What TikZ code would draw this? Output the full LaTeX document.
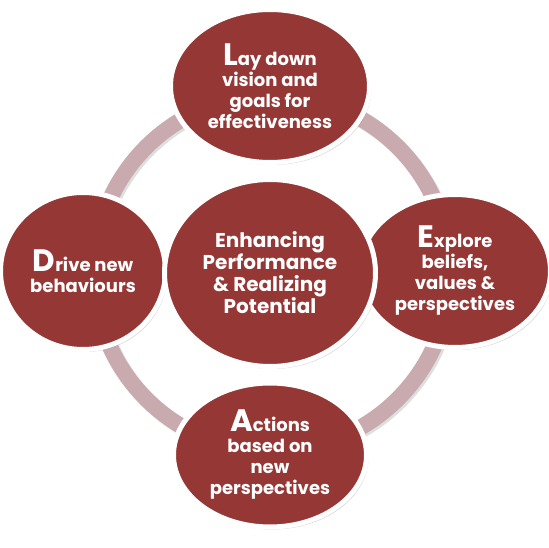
\documentclass[tikz,border=0pt]{standalone}
\usepackage{fontspec}
\setmainfont{Poppins}
\usetikzlibrary{shapes.geometric,shadows}
\definecolor{bub}{HTML}{953735}
\definecolor{ringc}{HTML}{C9AAAE}
\newcommand\initial[1]{{\fontsize{31}{31}\selectfont #1}}
\begin{document}
\begin{tikzpicture}[x=1pt,y=-1pt,
  bubble/.style={ellipse, draw=white, line width=5pt, fill=bub, text=white,
    align=center, inner sep=0pt,
    font=\bfseries\fontsize{18}{21}\selectfont,
    drop shadow={shadow xshift=2pt,shadow yshift=-2.5pt,opacity=.28,fill=black!60}},
  ringline/.style={line width=16pt, draw=ringc},
  ringshadow/.style={line width=16pt, draw=black!50, opacity=.25}
]
\useasboundingbox (0,0) rectangle (549,548);
\coordinate (c) at (272,273);
\coordinate (cs) at (274,275);
\draw[ringshadow] (cs) circle[radius=178];
\draw[ringline] (c) circle[radius=178];

\node[bubble, minimum width=199pt, minimum height=153pt] (top) at (270,86)
  {\initial{L}ay down\\vision and\\goals for\\effectiveness};
\node[bubble, minimum width=165pt, minimum height=157pt] (left) at (83,271)
  {\initial{D}rive new\\behaviours};
\node[bubble, minimum width=191pt, minimum height=153pt] (right) at (455,271)
  {\initial{E}xplore\\beliefs,\\values \&\\perspectives};
\node[bubble, minimum width=193pt, minimum height=144pt] (bottom) at (270,455)
  {\initial{A}ctions\\based on\\new\\perspectives};
\node[bubble, minimum width=211pt, minimum height=187pt,
  font=\bfseries\fontsize{20}{22}\selectfont] (centre) at (270,273)
  {Enhancing\\Performance\\\& Realizing\\Potential};
\end{tikzpicture}
\end{document}
